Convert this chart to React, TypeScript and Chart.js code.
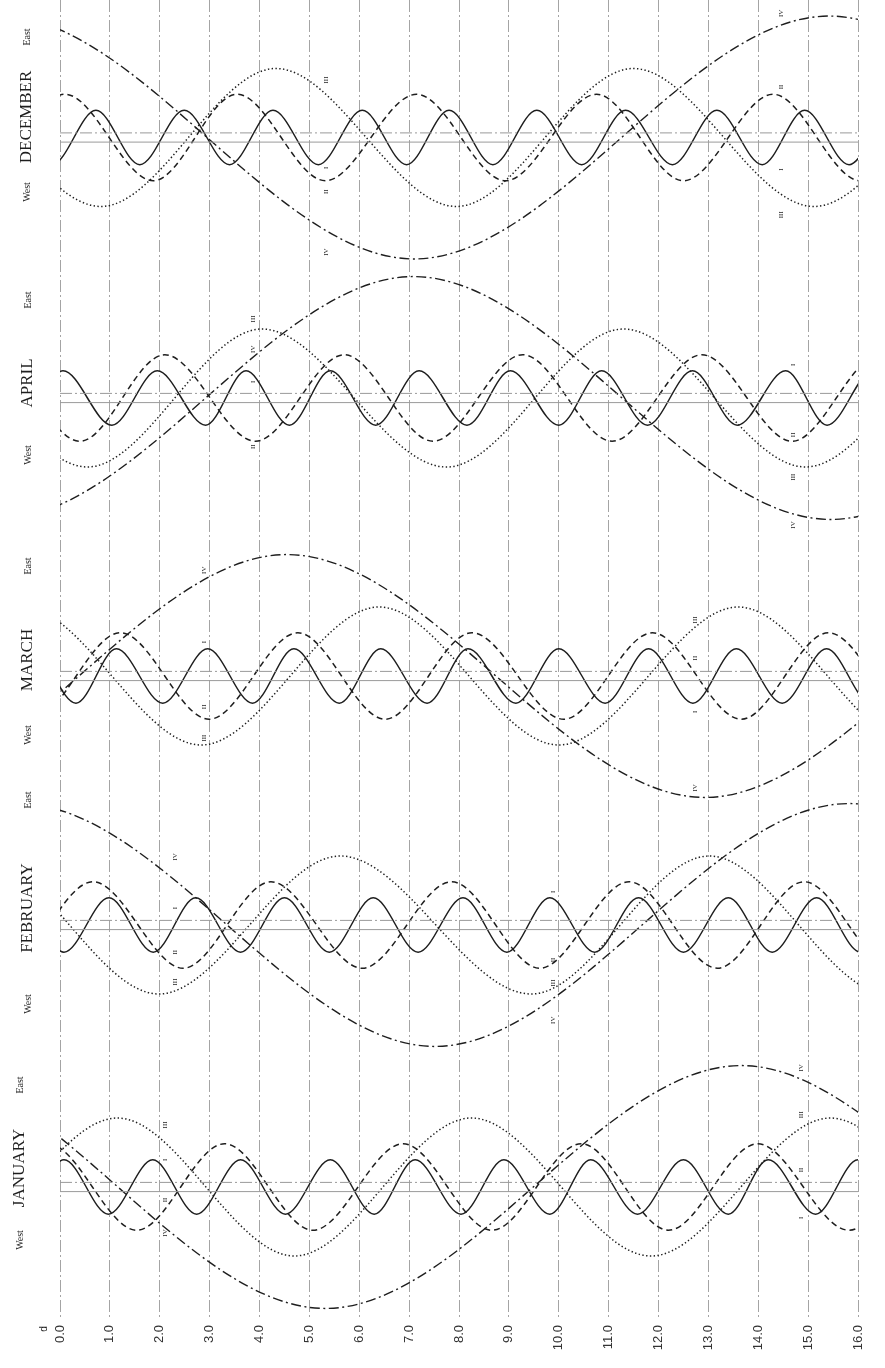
import React, { useEffect, useRef } from "react";
import { Chart, registerables } from "chart.js";

Chart.register(...registerables);

// ---------------- DATA ----------------
// Turning points (day of month, elongation in Jupiter radii, + = East),
// including the turning points just outside the 0–16 day window.
// Satellites: I (solid), II (dashed), III (dotted), IV (dash-dot).

const decI = [[-1.05,5.9],[-0.16,-5.9],[0.72,5.9],[1.6,-5.9],[2.49,5.9],[3.4,-5.9],[4.27,5.9],[5.18,-5.9],[6.06,5.9],[6.95,-5.9],[7.8,5.9],[8.68,-5.9],[9.56,5.9],[10.46,-5.9],[11.34,5.9],[12.28,-5.9],[13.17,5.9],[14.08,-5.9],[14.93,5.9],[15.82,-5.9],[16.7,5.9],[17.58,-5.9]];
const decII = [[-3.45,9.4],[-1.68,-9.4],[0.1,9.4],[1.87,-9.4],[3.55,9.4],[5.32,-9.4],[7.15,9.4],[8.93,-9.4],[10.76,9.4],[12.5,-9.4],[14.3,9.4],[16.05,-9.4],[17.82,9.4]];
const decIII = [[-6.34,-15],[-2.76,15],[0.82,-15],[4.33,15],[7.95,-15],[11.5,15],[15.12,-15],[18.7,15],[22.28,-15]];
const decIV = [[-9.54,-26.4],[-1.2,26.4],[7.1,-26.4],[15.42,26.4],[23.8,-26.4],[32.1,26.4]];

const aprI = [[-1.74,5.9],[-0.85,-5.9],[0.06,5.9],[1.04,-5.9],[1.95,5.9],[2.92,-5.9],[3.73,5.9],[4.6,-5.9],[5.42,5.9],[6.33,-5.9],[7.2,5.9],[8.16,-5.9],[9.03,5.9],[10.0,-5.9],[10.86,5.9],[11.78,-5.9],[12.68,5.9],[13.58,-5.9],[14.55,5.9],[15.38,-5.9],[16.3,5.9],[17.2,-5.9]];
const aprII = [[-3.14,-9.4],[-1.37,9.4],[0.4,-9.4],[2.1,9.4],[3.92,-9.4],[5.7,9.4],[7.48,-9.4],[9.28,9.4],[11.07,-9.4],[12.87,9.4],[14.68,-9.4],[16.45,9.4],[18.22,-9.4]];
const aprIII = [[-6.61,-15],[-3.03,15],[0.55,-15],[4.05,15],[7.75,-15],[11.3,15],[14.95,-15],[18.53,15],[22.11,-15]];
const aprIV = [[-9.59,26.4],[-1.25,-26.4],[7.09,26.4],[15.45,-26.4],[23.8,26.4],[32.14,-26.4]];

const marI = [[-1.45,-5.9],[-0.57,5.9],[0.32,-5.9],[1.13,5.9],[2.06,-5.9],[2.96,5.9],[3.86,-5.9],[4.69,5.9],[5.6,-5.9],[6.43,5.9],[7.36,-5.9],[8.18,5.9],[9.14,-5.9],[10.0,5.9],[10.93,-5.9],[11.8,5.9],[12.69,-5.9],[13.56,5.9],[14.48,-5.9],[15.37,5.9],[16.25,-5.9],[17.13,5.9]];
const marII = [[-2.33,9.4],[-0.56,-9.4],[1.21,9.4],[2.99,-9.4],[4.77,9.4],[6.52,-9.4],[8.26,9.4],[10.1,-9.4],[11.88,9.4],[13.66,-9.4],[15.41,9.4],[17.18,-9.4],[18.95,9.4]];
const marIII = [[-4.33,-15],[-0.75,15],[2.83,-15],[6.4,15],[10.0,-15],[13.6,15],[17.18,-15],[20.76,15]];
const marIV = [[-12.13,26.4],[-3.79,-26.4],[4.55,26.4],[12.93,-26.4],[21.27,26.4],[29.6,-26.4]];

const febI = [[-1.68,-5.9],[-0.8,5.9],[0.08,-5.9],[0.98,5.9],[1.87,-5.9],[2.72,5.9],[3.62,-5.9],[4.5,5.9],[5.4,-5.9],[6.28,5.9],[7.18,-5.9],[8.08,5.9],[8.96,-5.9],[9.82,5.9],[10.72,-5.9],[11.6,5.9],[12.5,-5.9],[13.4,5.9],[14.28,-5.9],[15.17,5.9],[16.05,-5.9],[16.93,5.9]];
const febII = [[-2.87,9.4],[-1.1,-9.4],[0.66,9.4],[2.47,-9.4],[4.23,9.4],[6.06,-9.4],[7.85,9.4],[9.62,-9.4],[11.41,9.4],[13.18,-9.4],[14.92,9.4],[16.7,-9.4],[18.47,9.4]];
const febIII = [[-5.18,-15],[-1.6,15],[1.98,-15],[5.62,15],[9.45,-15],[13.02,15],[16.6,-15],[20.18,15]];
const febIV = [[-9.16,-26.4],[-0.82,26.4],[7.52,-26.4],[15.82,26.4],[24.16,-26.4],[32.5,26.4]];

const janI = [[-1.68,5.9],[-0.8,-5.9],[0.08,5.9],[0.97,-5.9],[1.86,5.9],[2.74,-5.9],[3.62,5.9],[4.52,-5.9],[5.42,5.9],[6.3,-5.9],[7.12,5.9],[8.04,-5.9],[8.9,5.9],[9.82,-5.9],[10.64,5.9],[11.58,-5.9],[12.5,5.9],[13.4,-5.9],[14.2,5.9],[15.15,-5.9],[16.0,5.9],[16.9,-5.9],[17.78,5.9]];
const janII = [[-2.0,-9.4],[-0.24,9.4],[1.54,-9.4],[3.3,9.4],[5.07,-9.4],[6.88,9.4],[8.66,-9.4],[10.45,9.4],[12.2,-9.4],[13.99,9.4],[15.82,-9.4],[17.6,9.4],[19.37,-9.4]];
const janIII = [[-6.0,15],[-2.43,-15],[1.15,15],[4.7,-15],[8.25,15],[11.85,-15],[15.45,15],[19.03,-15],[22.6,15]];
const janIV = [[-11.34,-26.4],[-3.0,26.4],[5.32,-26.4],[13.66,26.4],[22.0,-26.4],[30.34,26.4]];

// satellite labels: [day, elongation, numeral]
const decLabels = [[5.33,12.5,"III"],[5.33,-6.6,"I"],[5.33,-11.8,"II"],[5.33,-24.9,"IV"],[14.45,27,"IV"],[14.45,11,"II"],[14.45,-7,"I"],[14.45,-16.8,"III"]];
const aprLabels = [[3.87,17.2,"III"],[3.87,10.6,"IV"],[3.87,3.5,"I"],[3.87,-10.6,"II"],[14.7,7.2,"I"],[14.7,-8,"II"],[14.7,-17.2,"III"],[14.7,-27.6,"IV"]];
const marLabels = [[2.89,23,"IV"],[2.89,7.4,"I"],[2.89,-6.7,"II"],[2.89,-13.5,"III"],[12.73,12.2,"III"],[12.73,3.9,"II"],[12.73,-7.8,"I"],[12.73,-24.3,"IV"]];
const febLabels = [[2.3,14.8,"IV"],[2.3,3.7,"I"],[2.3,-5.9,"II"],[2.3,-12.4,"III"],[9.88,7.2,"I"],[9.88,-7.6,"II"],[9.88,-12.6,"III"],[9.88,-20.7,"IV"]];
const janLabels = [[2.1,13.5,"III"],[2.1,5.9,"I"],[2.1,-2.8,"II"],[2.1,-10,"IV"],[14.87,25.9,"IV"],[14.87,15.7,"III"],[14.87,3.7,"II"],[14.87,-6.7,"I"]];

const MONTHS = ["DECEMBER", "APRIL", "MARCH", "FEBRUARY", "JANUARY"];
const MONTH_SERIES = [
  [decI, decII, decIII, decIV],
  [aprI, aprII, aprIII, aprIV],
  [marI, marII, marIII, marIV],
  [febI, febII, febIII, febIV],
  [janI, janII, janIII, janIV],
];
const MONTH_LABELS = [decLabels, aprLabels, marLabels, febLabels, janLabels];
const MOONS = ["I", "II", "III", "IV"];
const DAY_LABELS = ["0.0","1.0","2.0","3.0","4.0","5.0","6.0","7.0","8.0","9.0","10.0","11.0","12.0","13.0","14.0","15.0","16.0"];

// ---------------- LAYOUT ----------------
const W = 885;
const H = 1368;
const PLOT_LEFT = 60;
const PLOT_RIGHT = 858;
const PLOT_BOTTOM = 1318;
const PX_PER_RJ = 4.6;
const CENTER_PX = [137.5, 398, 676, 925, 1187];
const TITLE_POS = [
  { x: 27, west: 192, title: 117, east: 37 },
  { x: 28, west: 455, title: 383, east: 300 },
  { x: 28, west: 735, title: 660, east: 566 },
  { x: 28, west: 1004, title: 908, east: 800 },
  { x: 20, west: 1240, title: 1168, east: 1085 },
];
const INK = "#1e1e1e";
const MOON_STYLE = [
  { dash: [], width: 1.5 },
  { dash: [6, 4], width: 1.5 },
  { dash: [1.4, 2.4], width: 1.5 },
  { dash: [10, 3.5, 2, 3.5], width: 1.4 },
];

const offsetOf = (m: number) => -CENTER_PX[m] / PX_PER_RJ;

const textPlugin = {
  id: "jovianTexts",
  afterDraw(chart: any) {
    const { ctx } = chart;
    const xs = chart.scales.x;
    const ys = chart.scales.y;
    const rot = (text: string, x: number, y: number, font: string) => {
      ctx.save();
      ctx.translate(x, y);
      ctx.rotate(-Math.PI / 2);
      ctx.font = font;
      ctx.fillStyle = INK;
      ctx.textAlign = "center";
      ctx.textBaseline = "middle";
      ctx.fillText(text, 0, 0);
      ctx.restore();
    };
    MONTHS.forEach((name, m) => {
      const t = TITLE_POS[m];
      rot("West", t.x, t.west, '10px "Liberation Serif", serif');
      rot(name, t.x, t.title, '17px "Liberation Serif", serif');
      rot("East", t.x, t.east, '10px "Liberation Serif", serif');
      MONTH_LABELS[m].forEach((l: any) => {
        rot(l[2], xs.getPixelForValue(l[0]), ys.getPixelForValue(offsetOf(m) + l[1]), '7px "Liberation Serif", serif');
      });
    });
    rot("d", xs.getPixelForValue(0) - 16, PLOT_BOTTOM + 11, '10px "Liberation Sans", Arial, sans-serif');
  },
};

export default function App() {
  const ref = useRef<HTMLCanvasElement | null>(null);
  useEffect(() => {
    if (!ref.current) return;
    const datasets: any[] = [];
    MONTHS.forEach((_, m) => {
      const off = offsetOf(m);
      datasets.push({
        label: "disk-e",
        data: [{ x: 0, y: off + 1 }, { x: 16, y: off + 1 }],
        borderColor: "#9a9a9a",
        borderWidth: 1,
        borderDash: [12, 3, 2, 3],
        pointRadius: 0,
      });
      datasets.push({
        label: "disk-w",
        data: [{ x: 0, y: off - 1 }, { x: 16, y: off - 1 }],
        borderColor: "#9a9a9a",
        borderWidth: 1,
        pointRadius: 0,
      });
      MONTH_SERIES[m].forEach((series, k) => {
        datasets.push({
          label: MONTHS[m] + " " + MOONS[k],
          data: series.map(([d, v]) => ({ x: d, y: off + v })),
          borderColor: INK,
          borderWidth: MOON_STYLE[k].width,
          borderDash: MOON_STYLE[k].dash,
          cubicInterpolationMode: "monotone",
          pointRadius: 0,
          fill: false,
        });
      });
    });
    const chart = new Chart(ref.current, {
      type: "line",
      data: { datasets },
      options: {
        animation: false,
        responsive: false,
        events: [],
        layout: { padding: { left: PLOT_LEFT, right: W - PLOT_RIGHT, top: 0, bottom: 0 } },
        plugins: {
          legend: { display: false },
          tooltip: { enabled: false },
          title: { display: false },
        },
        scales: {
          x: {
            type: "linear",
            min: 0,
            max: 16,
            afterFit: (s: any) => {
              s.height = H - PLOT_BOTTOM;
            },
            ticks: {
              stepSize: 1,
              autoSkip: false,
              minRotation: 90,
              maxRotation: 90,
              padding: 7,
              color: "#333",
              font: { family: '"Liberation Sans", Arial, sans-serif', size: 13 },
              callback: (v: any) => DAY_LABELS[Math.round(Number(v))],
            },
            grid: { color: "rgba(0,0,0,0.45)", lineWidth: 0.8, drawTicks: false },
            border: { display: false, dash: [12, 3, 2, 3] },
          },
          y: {
            type: "linear",
            display: false,
            min: -PLOT_BOTTOM / PX_PER_RJ,
            max: 0,
          },
        },
      } as any,
      plugins: [textPlugin],
    });
    return () => chart.destroy();
  }, []);
  return (
    <div style={{ position: "absolute", left: 0, top: 0, width: W, height: H, background: "#fff" }}>
      <canvas ref={ref} width={W} height={H} style={{ display: "block" }} />
    </div>
  );
}
